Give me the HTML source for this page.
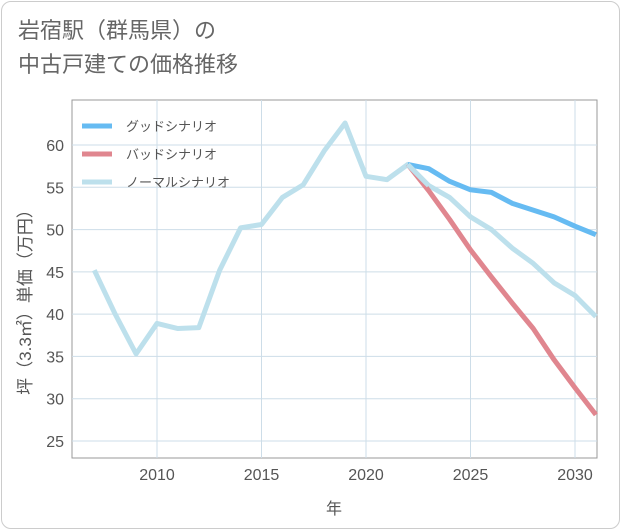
<!DOCTYPE html>
<html><head><meta charset="utf-8"><style>
body{margin:0;background:#fff;}
.card{position:absolute;left:1px;top:1px;width:617px;height:526px;border:1px solid #ccc;border-radius:10px;background:#fff;}
.title{position:absolute;left:18px;top:14px;font:22px "Liberation Sans","Noto Sans CJK JP",sans-serif;color:#666;line-height:34px;}
svg text{font-family:"Liberation Sans","Noto Sans CJK JP",sans-serif;}
</style></head><body>
<div class="card"></div>
<div class="title">岩宿駅（群馬県）の<br>中古戸建ての価格推移</div>
<svg id="c" width="621" height="530" style="position:absolute;left:0;top:0"></svg>
<script>
const years=[2007,2008,2009,2010,2011,2012,2013,2014,2015,2016,2017,2018,2019,2020,2021,2022,2023,2024,2025,2026,2027,2028,2029,2030,2031];
const normal=[45.2,40,35.3,38.9,38.3,38.4,45.2,50.2,50.6,53.8,55.3,59.3,62.6,56.3,55.9,57.7,55.2,53.8,51.5,50,47.8,46,43.7,42.2,39.7];
const futureYears=[2022,2023,2024,2025,2026,2027,2028,2029,2030,2031];
const good=[57.7,57.2,55.7,54.7,54.4,53.1,52.3,51.5,50.4,49.4];
const bad=[57.7,54.6,51.2,47.6,44.4,41.3,38.3,34.6,31.3,28.1];
const yTicks=[25,30,35,40,45,50,55,60];
const xTicks=[2010,2015,2020,2025,2030];
const L=72,R=597,T=100,B=458;
const X=v=>157+(v-2010)*20.9;
const Y=v=>145+(60-v)*8.457;
const s=document.getElementById('c');const NS='http://www.w3.org/2000/svg';
function el(t,a){const e=document.createElementNS(NS,t);for(const k in a)e.setAttribute(k,a[k]);s.appendChild(e);return e;}
let fr=el('rect',{x:L,y:T,width:R-L,height:B-T,fill:'none',stroke:'#999','stroke-width':1});


yTicks.forEach(v=>{let g=el('line',{x1:L,x2:R,y1:Y(v),y2:Y(v),stroke:'#cddde8'});


let t=el('text',{x:L-8,y:Y(v)+6,'text-anchor':'end','font-size':16,fill:'#555'});t.textContent=v;

});
xTicks.forEach(v=>{let g=el('line',{x1:X(v),x2:X(v),y1:T,y2:B,stroke:'#cddde8'});


let t=el('text',{x:X(v),y:B+22,'text-anchor':'middle','font-size':16,fill:'#555'});t.textContent=v;

});
function line(xs,ys,c,n){let p=el('polyline',{points:xs.map((x,i)=>X(x)+','+Y(ys[i])).join(' '),fill:'none',stroke:c,'stroke-width':5,'stroke-linejoin':'round'});

}
line(years,normal,'#bde0ec','normal-scenario-line');
line(futureYears,bad,'#e0868f','bad-scenario-line');
line(futureYears,good,'#66bbf2','good-scenario-line');
line(futureYears.slice(0,2),normal.slice(15,17),'#bde0ec','normal-scenario-overlap');
[['グッドシナリオ','#66bbf2'],['バッドシナリオ','#e0868f'],['ノーマルシナリオ','#bde0ec']].forEach((d,i)=>{
let y=126+i*28;
let l=el('line',{x1:82,x2:112,y1:y,y2:y,stroke:d[1],'stroke-width':5});


let t=el('text',{x:126,y:y+5,'font-size':13,fill:'#555'});t.textContent=d[0];

});
let yt=el('text',{x:0,y:0,'font-size':17,fill:'#555','text-anchor':'middle',transform:'translate(31,298) rotate(-90)'});yt.textContent='坪（3.3㎡）単価（万円）';


let xt=el('text',{x:334,y:514,'font-size':16,fill:'#555','text-anchor':'middle'});xt.textContent='年';


</script>
</body></html>
